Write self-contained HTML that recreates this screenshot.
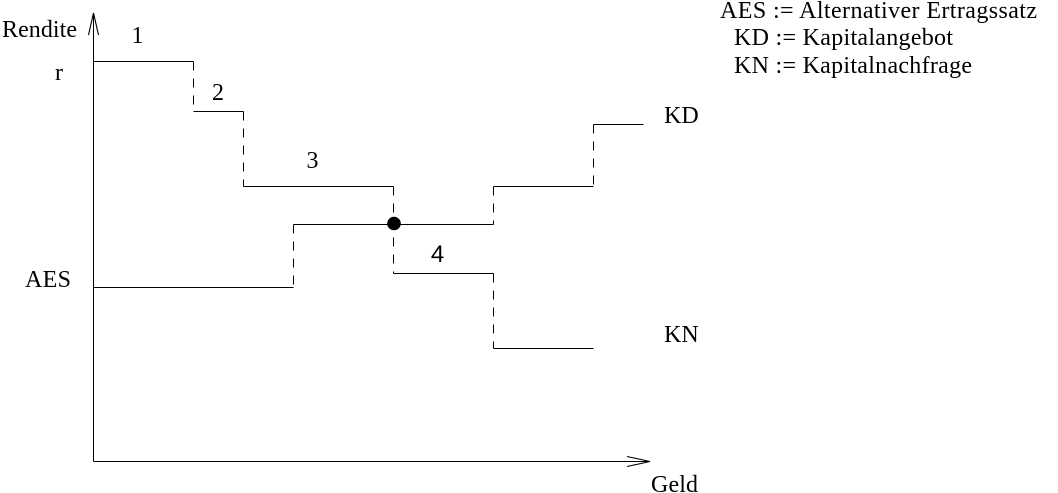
<!DOCTYPE html>
<html>
<head>
<meta charset="utf-8">
<style>
  html, body { margin: 0; padding: 0; background: #fff; }
  body { width: 1058px; height: 493px; overflow: hidden; }
  svg { display: block; }
  text { font-family: "Liberation Serif", serif; fill: #000; }
</style>
</head>
<body>
<svg width="1058" height="493" viewBox="0 0 1058 493" xmlns="http://www.w3.org/2000/svg">
  <g stroke="#000" stroke-width="1" fill="none" shape-rendering="crispEdges">
    <path d="M93.5 461.5 V14"/>
    <path d="M93.5 461.5 H649"/>
  </g>
  <g stroke="#000" stroke-width="1.1" fill="none">
    <path d="M88.5 35 L93.5 13 L98.5 35"/>
    <path d="M627 456.5 L650 461.5 L627 466.5"/>
  </g>
  <g stroke="#000" stroke-width="1" fill="none" shape-rendering="crispEdges">
    <path d="M93.5 61.5 H193.5"/>
    <path d="M193.5 111.5 H243.5"/>
    <path d="M243.5 186.5 H393.5"/>
    <path d="M393.5 273.5 H493.5"/>
    <path d="M493.5 348.5 H593.5"/>
    <path d="M93.5 287.5 H293.5"/>
    <path d="M293.5 224.5 H493.5"/>
    <path d="M493.5 186.5 H593.5"/>
    <path d="M593.5 124.5 H643.5"/>
  </g>
  <g stroke="#000" stroke-width="1" fill="none" stroke-dasharray="9,8" shape-rendering="crispEdges">
    <path d="M193.5 61.5 V111.5"/>
    <path d="M243.5 111.5 V186.5"/>
    <path d="M393.5 186.5 V273.5"/>
    <path d="M493.5 273.5 V348.5"/>
    <path d="M293.5 224.5 V291"/>
    <path d="M493.5 186.5 V224.5"/>
    <path d="M593.5 124.5 V186.5"/>
  </g>
  <circle cx="394" cy="223.5" r="6.8" fill="#000"/>

  <text x="2" y="37" font-size="24" textLength="75" lengthAdjust="spacing">Rendite</text>
  <text x="55" y="80" font-size="24">r</text>
  <text x="25" y="287" font-size="24" textLength="46" lengthAdjust="spacing">AES</text>
  <text x="664" y="123" font-size="24">KD</text>
  <text x="664" y="342" font-size="24">KN</text>
  <text x="651" y="492" font-size="24" textLength="47" lengthAdjust="spacing">Geld</text>

  <text x="137.5" y="43" font-size="24" text-anchor="middle">1</text>
  <text x="218" y="100" font-size="24" text-anchor="middle">2</text>
  <text x="312.5" y="168" font-size="24" text-anchor="middle">3</text>
  <text x="437.5" y="262" font-size="24" text-anchor="middle" style="font-family:'Liberation Sans', sans-serif">4</text>

  <text x="720" y="18" font-size="24" textLength="317" lengthAdjust="spacing">AES := Alternativer Ertragssatz</text>
  <text x="734" y="45" font-size="24" textLength="219" lengthAdjust="spacing">KD := Kapitalangebot</text>
  <text x="734" y="73" font-size="24" textLength="238" lengthAdjust="spacing">KN := Kapitalnachfrage</text>
</svg>
</body>
</html>
